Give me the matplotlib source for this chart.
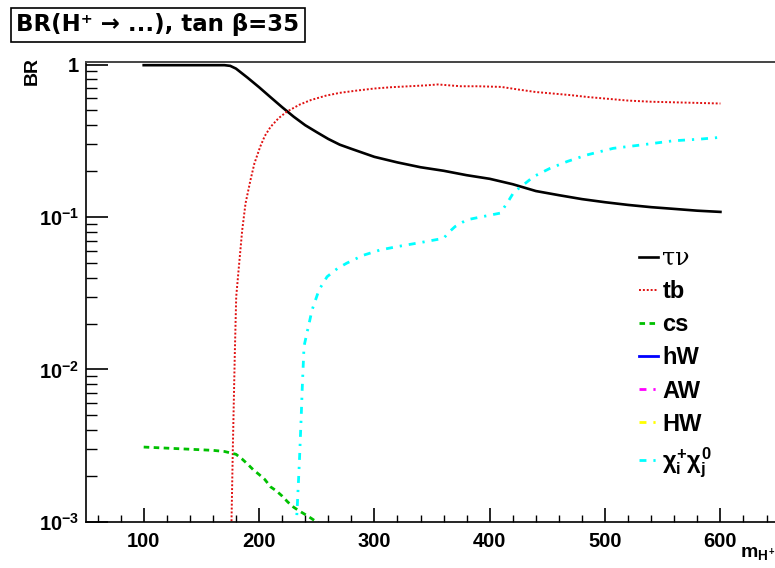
import matplotlib
matplotlib.use("Agg")
import matplotlib.pyplot as plt
from matplotlib.lines import Line2D
import numpy as np

plt.rcParams['font.family'] = ['Liberation Sans', 'DejaVu Sans']
plt.rcParams['font.weight'] = 'bold'
plt.rcParams['mathtext.fontset'] = 'custom'
plt.rcParams['mathtext.rm'] = 'Liberation Sans:bold'
plt.rcParams['mathtext.bf'] = 'Liberation Sans:bold'
plt.rcParams['mathtext.it'] = 'Liberation Sans:bold'

# BR(H+ -> tau nu)
m_taunu = [100, 120, 140, 160, 170, 175, 180, 190, 200, 210, 220, 230, 240, 250,
           260, 270, 280, 300, 320, 340, 360, 380, 400, 420, 440, 460, 480, 500,
           520, 540, 560, 580, 600]
br_taunu = [0.99, 0.99, 0.99, 0.99, 0.99, 0.98, 0.94, 0.82, 0.71, 0.61, 0.525,
            0.455, 0.40, 0.36, 0.325, 0.298, 0.28, 0.248, 0.228, 0.212, 0.201,
            0.188, 0.178, 0.164, 0.148, 0.139, 0.131, 0.125, 0.12, 0.116, 0.113,
            0.11, 0.108]

# BR(H+ -> t b)
m_tb = [176, 177.3, 179, 180.2, 182.5, 185.4, 188.3, 192.6, 196, 201, 205, 210,
        217, 224, 235, 245, 258, 270, 285, 300, 315, 330, 345, 355, 365, 375, 390,
        410, 425, 440, 455, 470, 485, 500, 520, 540, 560, 580, 600]
br_tb = [0.0009, 0.0031, 0.0128, 0.03, 0.047, 0.082, 0.123, 0.175, 0.225, 0.289,
         0.34, 0.39, 0.445, 0.49, 0.545, 0.585, 0.625, 0.652, 0.675, 0.696, 0.71,
         0.72, 0.73, 0.74, 0.73, 0.72, 0.72, 0.713, 0.685, 0.66, 0.645, 0.63,
         0.612, 0.598, 0.58, 0.57, 0.565, 0.56, 0.555]

# BR(H+ -> c s)
m_cs = [100, 120, 140, 160, 170, 180, 185, 190, 195, 200, 205, 210, 215, 220,
        225, 230, 235, 240, 245, 250, 255]
br_cs = [0.0031, 0.00305, 0.003, 0.00295, 0.0029, 0.00278, 0.0026, 0.0024,
         0.0022, 0.00205, 0.0019, 0.0017, 0.0016, 0.00148, 0.00135, 0.00125,
         0.00118, 0.00112, 0.00106, 0.001, 0.00095]

# BR(H+ -> chargino neutralino)
m_chi = [232, 233, 235, 236.5, 237.5, 239, 242, 246, 252, 259, 268, 276, 290,
         305, 320, 340, 360, 365, 370, 380, 395, 409, 415, 421, 429, 438, 452,
         467, 484, 507, 530, 559, 582, 600]
br_chi = [0.0009, 0.0012, 0.0025, 0.0048, 0.0077, 0.0142, 0.018, 0.0246, 0.0333,
          0.0406, 0.046, 0.0498, 0.056, 0.0608, 0.064, 0.068, 0.0725, 0.08,
          0.0866, 0.0958, 0.101, 0.106, 0.123, 0.146, 0.162, 0.184, 0.208, 0.231,
          0.255, 0.282, 0.296, 0.316, 0.324, 0.333]

x_ticks = [100, 200, 300, 400, 500, 600]
y_ticks = [1e-3, 1e-2, 1e-1, 1]
y_ticklabels = [r'$10^{-3}$', r'$10^{-2}$', r'$10^{-1}$', '1']

fig = plt.figure(figsize=(7.75, 5.68), dpi=100)
ax = fig.add_axes([0.111, 0.081, 0.893, 0.810])

ax.plot(m_taunu, br_taunu, color='black', lw=1.9, solid_joinstyle='miter')
ax.plot(m_tb, br_tb, color='#e01010', lw=1.4, dashes=(1, 1.0))
ax.plot(m_cs, br_cs, color='#00c000', lw=2.0, dashes=(2.0, 1.6))
ax.plot(m_chi, br_chi, color='#00ffff', lw=2.0, dashes=(2.5, 2.5, 0.8, 2.5))

ax.set_yscale('log')
ax.set_xlim(50, 650)
ax.set_ylim(1e-3, 1.04)

ax.set_xticks(x_ticks)
ax.set_xticks(np.arange(60, 650, 20), minor=True)
ax.set_yticks(y_ticks)
ax.set_yticklabels(y_ticklabels)
ax.tick_params(axis='both', which='both', direction='in', labelsize=14.5)
ax.tick_params(axis='y', which='major', length=16, width=1.2, pad=5)
ax.tick_params(axis='y', which='minor', length=8, width=1.0)
ax.tick_params(axis='x', which='major', length=10, width=1.2, pad=7)
ax.tick_params(axis='x', which='minor', length=5, width=1.0)
for sp in ['left', 'bottom']:
    ax.spines[sp].set_linewidth(1.2)
ax.spines['top'].set_color('#444444')
ax.spines['top'].set_linewidth(1.4)
ax.spines['right'].set_visible(False)

# axis titles
fig.text(0.041, 0.875, 'BR', rotation=90, fontsize=14, fontweight='bold',
         ha='center', va='center')
fig.text(0.955, 0.02, r'$m_{H^{+}}$', fontsize=14, ha='left', va='baseline')

# title box (DejaVu for a full-size arrow)
fig.text(0.021, 0.956, 'BR(H⁺ → ...), tan β=35', family=['DejaVu Sans'],
         fontsize=16.5, fontweight='bold', ha='left', va='center',
         bbox=dict(boxstyle='square,pad=0.25', fc='white', ec='black', lw=1.2))

# legend
handles = [
    Line2D([], [], color='black', lw=1.9),
    Line2D([], [], color='#e01010', lw=1.4, dashes=(1, 1.0)),
    Line2D([], [], color='#00c000', lw=2.0, dashes=(2.0, 1.6)),
    Line2D([], [], color='blue', lw=2.0),
    Line2D([], [], color='#ff00ff', lw=2.0, dashes=(2.5, 2.5, 0.8, 2.5)),
    Line2D([], [], color='#ffff00', lw=2.0, dashes=(2.5, 2.5, 0.8, 2.5)),
    Line2D([], [], color='#00ffff', lw=2.0, dashes=(2.5, 2.5, 0.8, 2.5)),
]
labels = ['τν', 'tb', 'cs', 'hW', 'AW', 'HW', r'$\chi^{+}_{i}\chi^{0}_{j}$']
leg = ax.legend(handles, labels, loc='upper left',
                bbox_to_anchor=(0.809, 0.586), bbox_transform=fig.transFigure,
                frameon=False, fontsize=17, handlelength=0.8, handletextpad=0.2,
                labelspacing=0.43, borderpad=0)
leg.get_texts()[0].set_fontweight('normal')
leg.get_texts()[0].set_family(['DejaVu Serif'])

fig.savefig('out.png', dpi=100)
